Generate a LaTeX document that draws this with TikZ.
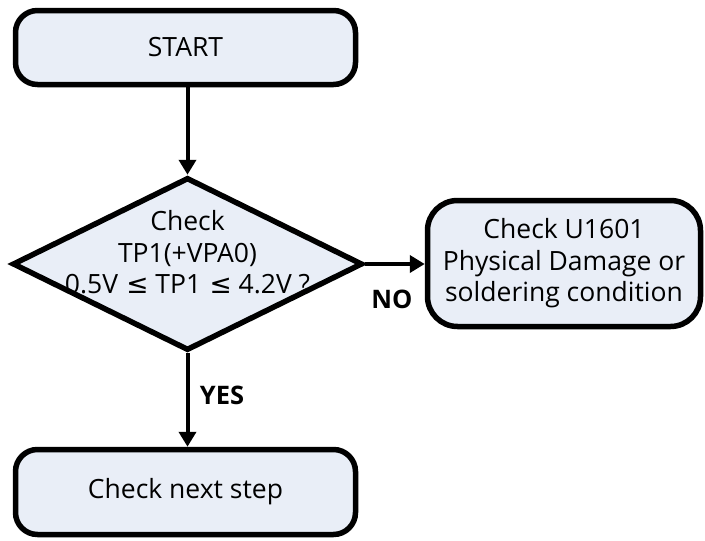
\documentclass[tikz,border=0pt]{standalone}
\usepackage{fontspec}
\setmainfont{Open Sans}
\newfontfamily\symfont{DejaVu Sans}
\usetikzlibrary{shapes.geometric,arrows.meta}
\definecolor{boxfill}{RGB}{233,238,247}
\begin{document}
\begin{tikzpicture}[x=1pt,y=-1pt,
  txt/.style={font=\fontsize{26.5}{31.5}\selectfont, align=center, inner sep=0pt},
  box/.style={draw=black, line width=5.5pt, fill=boxfill, rounded corners=22pt, inner sep=0pt, txt},
  decision/.style={draw=black, line width=5.5pt, fill=boxfill, diamond, inner sep=0pt},
  arr/.style={line width=4pt, -{Triangle[length=15pt,width=17pt]}},
  lbl/.style={font=\fontsize{25.5}{30}\selectfont\bfseries, inner sep=0pt}]
\useasboundingbox (0,0) rectangle (705,541);

% process boxes
\node[box, minimum width=340pt, minimum height=74pt] (start) at (185.5,47.5) {START};
\node[decision, minimum width=350pt, minimum height=173pt] (dec) at (187.5,264) {};
\node[txt] (dectext) at (187.5,252.5) {Check\\TP1(+VPA0)\\0.5V\hspace{1.5pt} {\symfont≤} TP1\hspace{1.5pt} {\symfont≤} 4.2V ?};
\node[box, rounded corners=30pt, minimum width=273pt, minimum height=126pt] (check) at (564,263.5)
  {Check U1601\\Physical Damage or\\soldering condition};
\node[box, minimum width=340pt, minimum height=85pt] (next) at (185.5,492) {Check next step};

% connectors
\draw[arr] (dec.north |- start.south) -- (dec.north);
\draw[arr] (dec.east) -- (check.west |- dec.east);
\draw[arr] (dec.south) -- (dec.south |- next.north);

% branch labels
\node[lbl] (no) at (392,299) {NO};
\node[lbl] (yes) at (222,395) {YES};
\end{tikzpicture}
\end{document}
